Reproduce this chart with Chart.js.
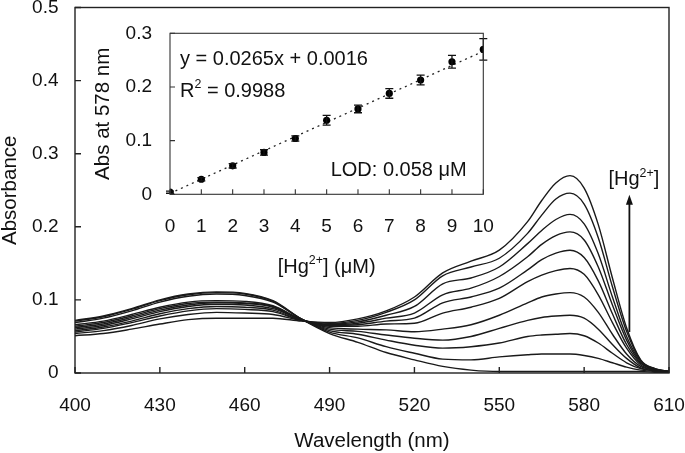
<!DOCTYPE html>
<html>
<head>
<meta charset="utf-8">
<script src="https://cdn.jsdelivr.net/npm/chart.js@4.4.0/dist/chart.umd.min.js"></script>
<style>
  html, body { margin: 0; padding: 0; background: #fff; }
  #wrap { position: relative; width: 685px; height: 453px; }
  #wrap canvas { position: absolute; left: 0; top: 0; }
</style>
</head>
<body>
<div id="wrap">
  <canvas id="main" width="685" height="453"></canvas>
  <canvas id="inset" width="685" height="453"></canvas>
</div>
<script>
// wavelength grid (nm)
const wavelengths = [400, 410, 420, 430, 440, 450, 460, 470, 480, 490, 500, 510, 520, 530, 540,
  550, 560, 565, 570, 575, 580, 585, 590, 595, 600, 605, 610];

// absorbance spectra, one per [Hg2+] level (0 to 10 uM)
const hg0 = [.072, .078, .088, .100, .108, .111, .109, .099, .074, .054, .042, .028, .018, .009, .004,
  .002, .002, .002, .002, .002, .002, .002, .002, .002, .002, .001, .001];
const hg1 = [.071, .077, .087, .099, .107, .110, .108, .098, .074, .056, .048, .036, .027, .019, .018,
  .022, .025, .026, .026, .026, .024, .020, .014, .008, .004, .002, .001];
const hg2 = [.069, .075, .085, .097, .105, .108, .106, .097, .074, .058, .053, .045, .038, .034, .036,
  .041, .050, .052, .053, .054, .051, .041, .027, .014, .006, .003, .001];
const hg3 = [.066, .071, .080, .090, .097, .099, .098, .092, .073, .060, .057, .052, .0475, .045, .050,
  .061, .072, .076, .078, .079, .075, .060, .039, .020, .007, .003, .001];
const hg4 = [.064, .069, .078, .088, .095, .097, .096, .091, .073, .062, .060, .059, .0565, .060, .066,
  .079, .096, .104, .108, .110, .104, .083, .053, .026, .009, .004, .001];
const hg5 = [.062, .067, .076, .086, .093, .096, .095, .090, .073, .064, .064, .067, .068, .082, .090,
  .102, .125, .134, .140, .143, .135, .107, .069, .034, .011, .004, .002];
const hg6 = [.060, .065, .074, .084, .091, .094, .093, .088, .073, .065, .066, .071, .075, .096, .104,
  .116, .141, .155, .164, .168, .158, .126, .081, .039, .013, .005, .002];
const hg7 = [.058, .063, .071, .081, .088, .091, .090, .086, .072, .066, .068, .075, .082, .107, .116,
  .132, .159, .176, .188, .193, .182, .145, .093, .045, .014, .005, .002];
const hg8 = [.056, .061, .069, .078, .085, .088, .087, .084, .072, .067, .070, .079, .091, .122, .130,
  .145, .177, .195, .210, .217, .204, .163, .104, .050, .016, .005, .002];
const hg9 = [.054, .058, .065, .074, .080, .083, .082, .080, .072, .068, .072, .083, .100, .133, .145,
  .157, .191, .216, .238, .246, .231, .185, .118, .057, .017, .006, .002];
const hg10 = [.051, .054, .060, .067, .073, .075, .075, .075, .071, .069, .074, .085, .104, .137, .153,
  .168, .207, .236, .260, .270, .253, .203, .130, .062, .018, .006, .002];
const spectra = [hg0, hg1, hg2, hg3, hg4, hg5, hg6, hg7, hg8, hg9, hg10];

// inset: calibration at 578 nm
const hgConc = [0, 1, 2, 3, 4, 5, 6, 7, 8, 9, 10];
const abs578 = [0.004, 0.028, 0.053, 0.078, 0.104, 0.138, 0.159, 0.188, 0.213, 0.247, 0.270];
const abs578Err = [0.002, 0.003, 0.004, 0.005, 0.005, 0.009, 0.007, 0.009, 0.009, 0.012, 0.020];
const fitX = [0, 10];
const fitY = [0.0016, 0.2666];

// arrow showing increasing [Hg2+] (in data units of the main plot)
const arrowNm = 596;
const arrowFrom = 0.056;
const arrowTo = 0.244;

const FONT = "'Liberation Sans', Arial, sans-serif";
Chart.defaults.font.family = FONT;
Chart.defaults.color = '#111';

// text with superscript pieces: parts = [[text, isSup], ...]
function richText(ctx, parts, x, y, size, align) {
  const supSize = size * 0.62;
  ctx.save();
  let w = 0;
  parts.forEach(p => {
    ctx.font = (p[1] ? supSize : size) + 'px ' + FONT;
    w += ctx.measureText(p[0]).width;
  });
  let cx = align === 'center' ? x - w / 2 : align === 'right' ? x - w : x;
  ctx.fillStyle = '#111';
  ctx.textAlign = 'left';
  ctx.textBaseline = 'alphabetic';
  parts.forEach(p => {
    ctx.font = (p[1] ? supSize : size) + 'px ' + FONT;
    ctx.fillText(p[0], cx, p[1] ? y - size * 0.42 : y);
    cx += ctx.measureText(p[0]).width;
  });
  ctx.restore();
}

// box around plot area + inward tick marks
const frameTicks = {
  id: 'frameTicks',
  afterDraw(chart, args, opts) {
    const { ctx, chartArea: a } = chart;
    const x = chart.scales.x, y = chart.scales.y;
    ctx.save();
    ctx.strokeStyle = opts.color;
    ctx.lineWidth = opts.width;
    ctx.strokeRect(a.left, a.top, a.right - a.left, a.bottom - a.top);
    ctx.beginPath();
    x.ticks.forEach(t => {
      const px = x.getPixelForValue(t.value);
      ctx.moveTo(px, a.bottom);
      ctx.lineTo(px, a.bottom - opts.len);
    });
    y.ticks.forEach(t => {
      const py = y.getPixelForValue(t.value);
      ctx.moveTo(a.left, py);
      ctx.lineTo(a.left + opts.len, py);
    });
    ctx.stroke();
    ctx.restore();
  }
};

const hgArrow = {
  id: 'hgArrow',
  afterDraw(chart) {
    const { ctx, chartArea: a } = chart;
    const x = chart.scales.x, y = chart.scales.y;
    const px = x.getPixelForValue(arrowNm);
    const y0 = y.getPixelForValue(arrowFrom);
    const y1 = y.getPixelForValue(arrowTo);
    ctx.save();
    ctx.strokeStyle = '#111';
    ctx.fillStyle = '#111';
    ctx.lineWidth = 1.8;
    ctx.beginPath();
    ctx.moveTo(px, y0);
    ctx.lineTo(px, y1 + 8);
    ctx.stroke();
    ctx.beginPath();
    ctx.moveTo(px, y1);
    ctx.lineTo(px - 3.5, y1 + 10);
    ctx.lineTo(px + 3.5, y1 + 10);
    ctx.closePath();
    ctx.fill();
    ctx.restore();
    richText(ctx, [['[Hg', false], ['2+', true], [']', false]], a.right - 60.5, 185, 20, 'left');
  }
};

new Chart(document.getElementById('main'), {
  type: 'line',
  data: {
    datasets: spectra.map(s => ({
      data: wavelengths.map((w, i) => ({ x: w, y: s[i] })),
      borderColor: '#1a1a1a',
      borderWidth: 1.4,
      pointRadius: 0,
      tension: 0.4,
      cubicInterpolationMode: 'monotone',
      fill: false
    }))
  },
  options: {
    responsive: false,
    animation: false,
    events: [],
    layout: { padding: { left: 0, top: 7.5, right: 16, bottom: 0 } },
    plugins: {
      legend: { display: false },
      tooltip: { enabled: false },
      frameTicks: { color: '#222', width: 1.4, len: 6 }
    },
    scales: {
      x: {
        type: 'linear', min: 400, max: 610,
        ticks: { stepSize: 30, padding: 21, font: { size: 19 }, maxRotation: 0, autoSkip: false },
        grid: { display: false, drawTicks: false },
        border: { display: false },
        title: { display: true, text: 'Wavelength (nm)', font: { size: 20.5, lineHeight: 1 }, padding: { top: 0, bottom: 1 } },
        afterFit(s) { s.height = 80; s.paddingLeft = 0; s.paddingRight = 0; }
      },
      y: {
        type: 'linear', min: 0, max: 0.5,
        ticks: { stepSize: 0.1, padding: 16.5, font: { size: 19 } },
        grid: { display: false, drawTicks: false },
        border: { display: false },
        title: { display: true, text: 'Absorbance', font: { size: 20.5, lineHeight: 1 }, padding: { top: 0, bottom: 0 } },
        afterFit(s) { s.width = 75; s.paddingTop = 0; s.paddingBottom = 0; }
      }
    }
  },
  plugins: [frameTicks, hgArrow]
});

// error bars + text inside inset
const insetExtras = {
  id: 'insetExtras',
  afterDatasetsDraw(chart) {
    const { ctx } = chart;
    const x = chart.scales.x, y = chart.scales.y;
    ctx.save();
    ctx.strokeStyle = '#111';
    ctx.lineWidth = 1.3;
    ctx.beginPath();
    hgConc.forEach((c, i) => {
      const px = x.getPixelForValue(c);
      const yt = y.getPixelForValue(abs578[i] + abs578Err[i]);
      const yb = y.getPixelForValue(abs578[i] - abs578Err[i]);
      ctx.moveTo(px, yt); ctx.lineTo(px, yb);
      ctx.moveTo(px - 4, yt); ctx.lineTo(px + 4, yt);
      ctx.moveTo(px - 4, yb); ctx.lineTo(px + 4, yb);
    });
    ctx.stroke();
    ctx.restore();
  },
  afterDraw(chart) {
    const { ctx, chartArea: a } = chart;
    richText(ctx, [['y = 0.0265x + 0.0016', false]], a.left + 10, a.top + 31.7, 20, 'left');
    richText(ctx, [['R', false], ['2', true], [' = 0.9988', false]], a.left + 10, a.top + 63.4, 20, 'left');
    richText(ctx, [['LOD: 0.058 \u03bcM', false]], a.right - 16.6, a.bottom - 18.5, 20, 'right');
    richText(ctx, [['[Hg', false], ['2+', true], ['] (\u03bcM)', false]], (a.left + a.right) / 2, a.bottom + 78.2, 20, 'center');
  }
};

new Chart(document.getElementById('inset'), {
  type: 'scatter',
  data: {
    datasets: [
      {
        type: 'line',
        data: fitX.map((v, i) => ({ x: v, y: fitY[i] })),
        borderColor: '#222',
        borderWidth: 1.3,
        borderDash: [2, 4],
        pointRadius: 0,
        order: 2
      },
      {
        data: hgConc.map((c, i) => ({ x: c, y: abs578[i] })),
        pointRadius: 3.6,
        backgroundColor: '#000',
        borderColor: '#000',
        borderWidth: 0,
        order: 1
      }
    ]
  },
  options: {
    responsive: false,
    animation: false,
    events: [],
    layout: { padding: { left: 93, top: 33.3, right: 201.7, bottom: 158.7 } },
    plugins: {
      legend: { display: false },
      tooltip: { enabled: false },
      frameTicks: { color: '#333', width: 1.1, len: 5 }
    },
    scales: {
      x: {
        type: 'linear', min: 0, max: 10,
        ticks: { stepSize: 1, padding: 21, font: { size: 19 }, maxRotation: 0, autoSkip: false },
        grid: { display: false, drawTicks: false },
        border: { display: false },
        afterFit(s) { s.height = 100; s.paddingLeft = 0; s.paddingRight = 0; }
      },
      y: {
        type: 'linear', min: 0, max: 0.3,
        ticks: { stepSize: 0.1, padding: 18, font: { size: 19 } },
        grid: { display: false, drawTicks: false },
        border: { display: false },
        title: { display: true, text: 'Abs at 578 nm', font: { size: 20.5, lineHeight: 1 }, padding: { top: 0, bottom: 0 } },
        afterFit(s) { s.width = 77; s.paddingTop = 0; s.paddingBottom = 0; }
      }
    }
  },
  plugins: [frameTicks, insetExtras]
});
</script>
</body>
</html>
